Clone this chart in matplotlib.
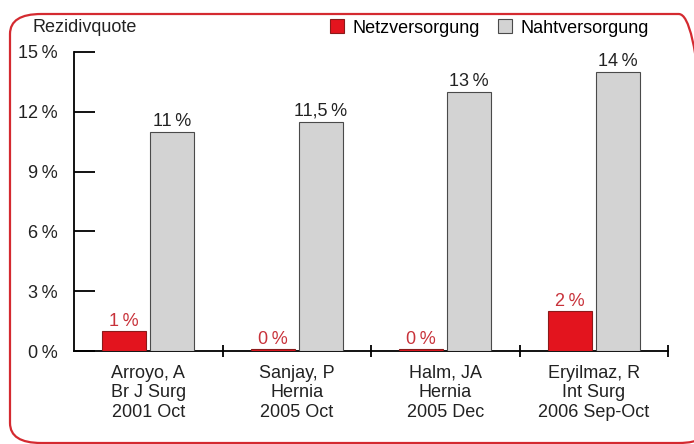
import numpy as np
import matplotlib
matplotlib.use('Agg')
import matplotlib.pyplot as plt
from matplotlib.patches import FancyBboxPatch, Patch

# Data
studies = ['Arroyo, A\nBr J Surg\n2001 Oct',
           'Sanjay, P\nHernia\n2005 Oct',
           'Halm, JA\nHernia\n2005 Dec',
           'Eryilmaz, R\nInt Surg\n2006 Sep-Oct']
netz = [1, 0, 0, 2]
naht = [11, 11.5, 13, 14]
netz_labels = ['1\u2009%', '0\u2009%', '0\u2009%', '2\u2009%']
naht_labels = ['11\u2009%', '11,5\u2009%', '13\u2009%', '14\u2009%']
yticks = [0, 3, 6, 9, 12, 15]
ytick_labels = ['0\u2009%', '3\u2009%', '6\u2009%', '9\u2009%', '12\u2009%', '15\u2009%']

RED = '#e3141e'
GREY = '#d3d3d3'
FS = 13
plt.rcParams['font.family'] = ['Liberation Sans', 'DejaVu Sans']

fig = plt.figure(figsize=(6.94, 4.44), dpi=100)
ax = fig.add_axes([74 / 694, 1 - 351 / 444, 594 / 694, 299 / 444])

# rounded red frame
W, H = 694, 444
frame = FancyBboxPatch((10 / W, 1 - 443 / H), 700 / W, 429 / H,
                       boxstyle='round,pad=0,rounding_size=0.045',
                       transform=fig.transFigure, facecolor='none',
                       edgecolor='#d42a30', linewidth=1.6, zorder=0)
fig.patches.append(frame)

x = np.arange(len(studies)) + 0.5
bw = 0.297
off = 0.162
netz_draw = [max(v, 0.12) for v in netz]
ax.bar(x - off, netz_draw, bw, color=RED, edgecolor='#8a1a1a', linewidth=0.8, zorder=3)
ax.bar(x + off, naht, bw, color=GREY, edgecolor='#4a4a4a', linewidth=0.8, zorder=3)

for xi, v, lab in zip(x, netz_draw, netz_labels):
    ax.text(xi - off, v + 0.05, lab, ha='center', va='bottom', color='#c8323a', fontsize=FS)
for xi, v, lab in zip(x, naht, naht_labels):
    ax.text(xi + off, v + 0.1, lab, ha='center', va='bottom', color='#222222', fontsize=FS)

ax.set_xlim(0, 4)
ax.set_ylim(0, 15)
ax.set_yticks(yticks)
ax.set_yticklabels(ytick_labels, fontsize=FS, color='#222222')
ax.tick_params(axis='y', direction='in', length=15, width=1.3, pad=12)
ax.set_xticks(x)
ax.set_xticklabels(studies, fontsize=FS, color='#222222', linespacing=1.2)
ax.tick_params(axis='x', which='major', length=0, pad=10)
ax.set_xticks([1, 2, 3, 4], minor=True)
ax.tick_params(axis='x', which='minor', direction='inout', length=9, width=1.3)
for s in ['top', 'right']:
    ax.spines[s].set_visible(False)
ax.spines['left'].set_linewidth(1.3)
ax.spines['bottom'].set_linewidth(1.3)

fig.text(32 / W, 1 - 28 / H, 'Rezidivquote', fontsize=FS, va='center', ha='left', color='#222222')

handles = [Patch(facecolor=RED, edgecolor='#8a1a1a', linewidth=0.8, label='Netzversorgung'),
           Patch(facecolor=GREY, edgecolor='#4a4a4a', linewidth=0.8, label='Nahtversorgung')]
fig.legend(handles=handles, loc='center right', bbox_to_anchor=(658 / W, 1 - 28 / H),
           ncol=2, frameon=False, fontsize=FS, handlelength=0.8, handleheight=0.8,
           handletextpad=0.45, columnspacing=1.0, borderpad=0)

fig.savefig('out.png', dpi=100)
